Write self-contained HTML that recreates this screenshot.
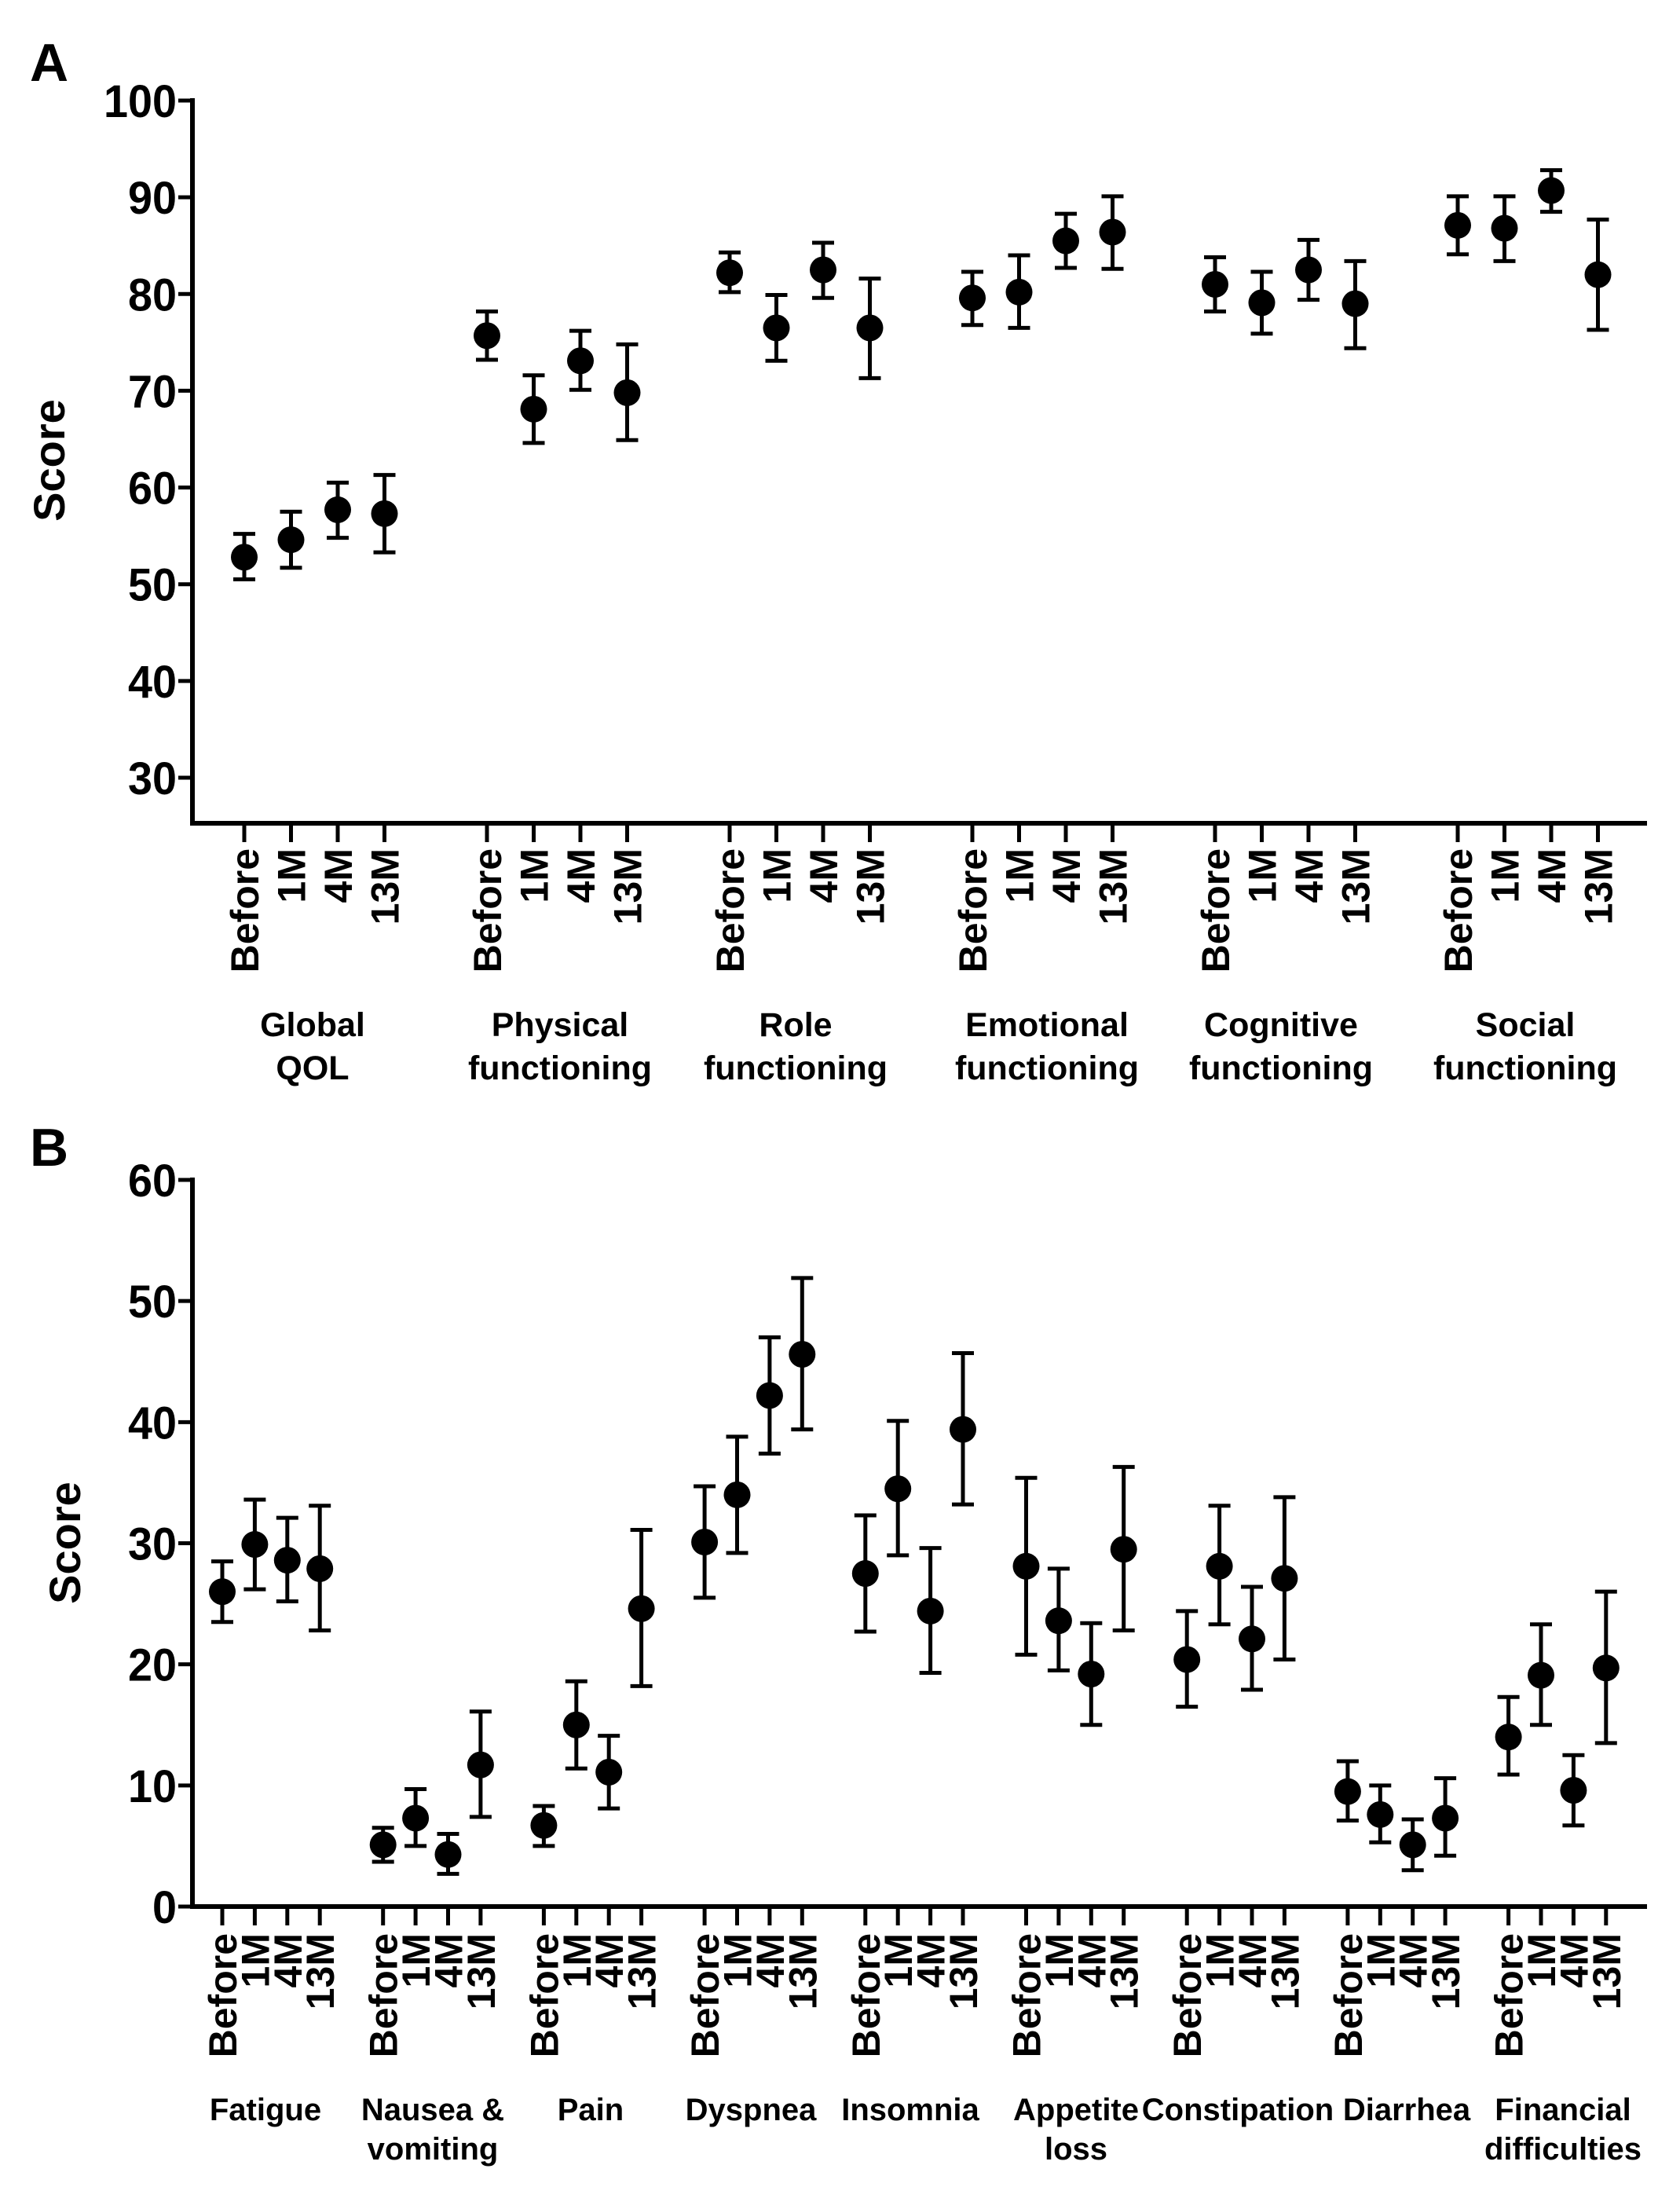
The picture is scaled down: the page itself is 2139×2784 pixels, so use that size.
<!DOCTYPE html>
<html><head><meta charset="utf-8"><style>
html,body{margin:0;padding:0;background:#fff;}
svg{display:block;font-family:"Liberation Sans",Arial,sans-serif;font-weight:bold;}
</style></head><body>
<svg id="fig" width="2139" height="2784" viewBox="0 0 2139 2784" xmlns="http://www.w3.org/2000/svg">
<text x="38" y="103" font-size="68">A</text>
<text x="38" y="1484" font-size="68">B</text>
<g id="pa"></g>
<g id="pb"></g>
</svg>
<script>
const timepoints = ["Before","1M","4M","13M"];
const aGroups = ["Global|QOL","Physical|functioning","Role|functioning","Emotional|functioning","Cognitive|functioning","Social|functioning"];
const aMeans = [[52.8,54.6,57.7,57.3],[75.7,68.1,73.1,69.8],[82.2,76.5,82.5,76.5],[79.6,80.2,85.5,86.4],[81,79.1,82.5,79],[87.1,86.8,90.7,82]];
const aLow = [[50.5,51.7,54.8,53.3],[73.2,64.6,70.1,64.9],[80.2,73.1,79.6,71.3],[76.8,76.5,82.7,82.6],[78.2,75.9,79.4,74.4],[84.1,83.4,88.5,76.3]];
const aHigh = [[55.2,57.5,60.5,61.3],[78.2,71.6,76.2,74.8],[84.3,79.9,85.3,81.6],[82.3,84,88.3,90.1],[83.8,82.3,85.6,83.4],[90.1,90.1,92.8,87.7]];
const aTicks = [30,40,50,60,70,80,90,100];
const bGroups = ["Fatigue","Nausea &|vomiting","Pain","Dyspnea","Insomnia","Appetite|loss","Constipation","Diarrhea","Financial|difficulties"];
const bMeans = [[26,29.9,28.6,27.9],[5.1,7.3,4.3,11.7],[6.7,15,11.1,24.6],[30.1,34,42.2,45.6],[27.5,34.5,24.4,39.4],[28.1,23.6,19.2,29.5],[20.4,28.1,22.1,27.1],[9.5,7.6,5.1,7.3],[14,19.1,9.6,19.7]];
const bLow = [[23.5,26.2,25.2,22.8],[3.7,5,2.7,7.4],[5,11.4,8.1,18.2],[25.5,29.2,37.4,39.4],[22.7,29,19.3,33.2],[20.8,19.5,15,22.8],[16.5,23.3,17.9,20.4],[7.1,5.3,3,4.2],[10.9,15,6.7,13.5]];
const bHigh = [[28.5,33.6,32.1,33.1],[6.5,9.7,6,16.1],[8.3,18.6,14.1,31.1],[34.7,38.8,47,51.9],[32.3,40.1,29.6,45.7],[35.4,27.9,23.4,36.3],[24.4,33.1,26.4,33.8],[12,10,7.2,10.6],[17.3,23.3,12.5,26]];
const bTicks = [0,10,20,30,40,50,60];

const NS="http://www.w3.org/2000/svg";
function mk(parent,tag,attrs,txt){const e=document.createElementNS(NS,tag);for(const k in attrs)e.setAttribute(k,attrs[k]);if(txt!==undefined)e.textContent=txt;parent.appendChild(e);return e;}

function draw(g,cfg){
  const yS=v=>cfg.y0px+(v-cfg.v0)*(cfg.y1px-cfg.y0px)/(cfg.v1-cfg.v0);
  const xS=(gi,ti)=>cfg.x0+gi*cfg.gstep+ti*cfg.istep;
  const axis=mk(g,'path',{d:`M${cfg.ax} ${cfg.top} V${cfg.bottom} H${cfg.right}`,stroke:'#000','stroke-width':6,fill:'none'});
  
  
  cfg.ticks.forEach(t=>{
    const y=yS(t);
    mk(g,'line',{x1:cfg.ax-18,x2:cfg.ax,y1:y,y2:y,stroke:'#000','stroke-width':5});
    const tx=mk(g,'text',{x:cfg.ax-20,y:y+21,'font-size':58,'text-anchor':'end',textLength:(String(t).length*31),lengthAdjust:'spacingAndGlyphs'},t);
    
    
  });
  const yt=mk(g,'text',{x:0,y:0,'font-size':56,'text-anchor':'middle',transform:`translate(${cfg.ytX},${cfg.ytY}) rotate(-90)`},'Score');
  
  
  cfg.groups.forEach((gn,gi)=>{
    timepoints.forEach((tp,ti)=>{
      const x=xS(gi,ti);
      mk(g,'line',{x1:x,x2:x,y1:cfg.bottom,y2:cfg.bottom+24,stroke:'#000','stroke-width':5});
      const lb=mk(g,'text',{x:0,y:0,'font-size':50,'text-anchor':'end',transform:`translate(${x+18},${cfg.bottom+cfg.lblOff}) rotate(-90)`},tp);
      
      
      const m=cfg.means[gi][ti],lo=cfg.low[gi][ti],hi=cfg.high[gi][ti];
      const eb=mk(g,'path',{d:`M${x} ${yS(lo)} V${yS(hi)} M${x-14} ${yS(lo)} H${x+14} M${x-14} ${yS(hi)} H${x+14}`,stroke:'#000','stroke-width':5,fill:'none'});
      
      
      const c=mk(g,'circle',{cx:x,cy:yS(m),r:17,fill:'#000'});
      
      
    });
    const parts=gn.split('|');
    parts.forEach((p,pi)=>{
      const t=mk(g,'text',{x:cfg.glX[gi],y:cfg.glY+pi*cfg.glDy,'font-size':cfg.glFs,'text-anchor':'middle'},p);
      
      
    });
  });
}
draw(document.getElementById('pa'),{groups:aGroups,means:aMeans,low:aLow,high:aHigh,ticks:aTicks,
  v0:30,v1:100,y0px:990,y1px:128,ax:245,top:125,bottom:1048,right:2097,
  x0:311,gstep:309,istep:59.5,ytX:82,ytY:586,lblOff:32,
  glX:[398,713,1013,1333,1631,1942],glY:1319,glDy:55,glFs:43});
draw(document.getElementById('pb'),{groups:bGroups,means:bMeans,low:bLow,high:bHigh,ticks:bTicks,
  v0:0,v1:60,y0px:2427,y1px:1502,ax:245,top:1499,bottom:2427,right:2097,
  x0:283,gstep:204.7,istep:41.4,ytX:102,ytY:1964,lblOff:34,
  glX:[338,551,752,956,1159,1370,1576,1791,1990],glY:2699,glDy:50,glFs:40});
</script>
</body></html>
